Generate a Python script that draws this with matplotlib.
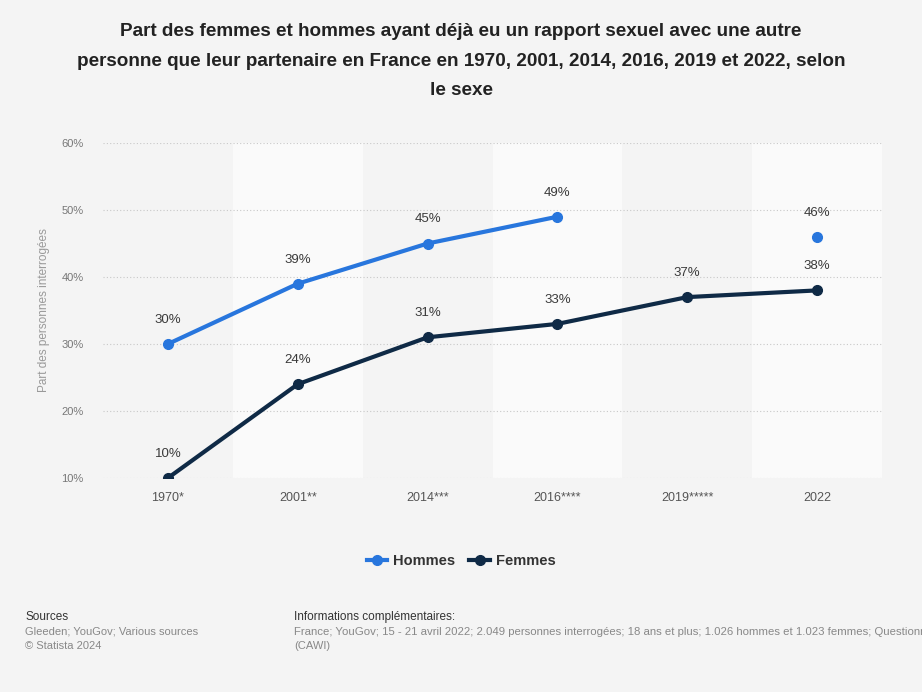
import numpy as np
import matplotlib.pyplot as plt

plt.rcParams["font.family"] = ["Liberation Sans", "DejaVu Sans"]

# data
years = ["1970*", "2001**", "2014***", "2016****", "2019*****", "2022"]
hommes = [30, 39, 45, 49, np.nan, 46]
femmes = [10, 24, 31, 33, 37, 38]
yticks = [10, 20, 30, 40, 50, 60]

BLUE = "#2876dd"
NAVY = "#0f2a46"
BG = "#f4f4f4"

fig = plt.figure(figsize=(9.22, 6.92), dpi=100, facecolor=BG)
ax = fig.add_axes([103 / 922, 1 - 478 / 692, (882 - 103) / 922, (478 - 143) / 692])
ax.set_facecolor(BG)

x = np.arange(len(years))
for i in x:
    if i % 2 == 1:
        ax.axvspan(i - 0.5, i + 0.5, color="#fafafa", zorder=0, lw=0)

for t in yticks:
    ax.axhline(t, color="#c8c8c8", lw=0.8, ls=(0, (1, 2)), zorder=1)

ax.plot(x, hommes, color=BLUE, lw=3, marker="o", ms=7, zorder=3, label="Hommes")
ax.plot(x, femmes, color=NAVY, lw=3, marker="o", ms=7, zorder=3, label="Femmes")

for xi, v in zip(x, hommes):
    if not np.isnan(v):
        ax.annotate(f"{v:.0f}%", (xi, v), xytext=(0, 13), textcoords="offset points",
                    ha="center", va="bottom", fontsize=9.5, color="#3a3a3a")
for xi, v in zip(x, femmes):
    ax.annotate(f"{v}%", (xi, v), xytext=(0, 13), textcoords="offset points",
                ha="center", va="bottom", fontsize=9.5, color="#3a3a3a")

ax.set_xlim(-0.5, len(years) - 0.5)
ax.set_ylim(10, 60)
ax.set_xticks(x)
ax.set_xticklabels(years, fontsize=9, color="#555555")
ax.set_yticks(yticks)
ax.set_yticklabels([f"{t}%" for t in yticks], fontsize=8, color="#777777")
ax.tick_params(length=0)
ax.tick_params(axis="x", pad=10)
ax.tick_params(axis="y", pad=14)
for s in ax.spines.values():
    s.set_visible(False)
ax.set_ylabel("Part des personnes interrogées", fontsize=8.5, color="#999999")
ax.yaxis.set_label_coords(-53 / 779, 0.5)

fig.text(0.5, 1 - 61 / 692,
         "Part des femmes et hommes ayant déjà eu un rapport sexuel avec une autre\n"
         "personne que leur partenaire en France en 1970, 2001, 2014, 2016, 2019 et 2022, selon\n"
         "le sexe",
         ha="center", va="center", fontsize=13.6, fontweight="bold", color="#222222",
         linespacing=1.95)

leg = fig.legend(loc="center", bbox_to_anchor=(0.5, 1 - 561 / 692), ncol=2, frameon=False,
                 handlelength=1.4, handletextpad=0.4, columnspacing=1.0,
                 prop={"weight": "bold", "size": 10.5})
for t in leg.get_texts():
    t.set_color("#333333")

fig.text(25 / 922, 1 - 617 / 692, "Sources", fontsize=8.5, color="#333333", va="center")
fig.text(25 / 922, 1 - 632 / 692, "Gleeden; YouGov; Various sources", fontsize=8,
         color="#888888", va="center")
fig.text(25 / 922, 1 - 646 / 692, "© Statista 2024", fontsize=8, color="#888888", va="center")
fig.text(294 / 922, 1 - 617 / 692, "Informations complémentaires:", fontsize=8.5,
         color="#333333", va="center")
fig.text(294 / 922, 1 - 632 / 692,
         "France; YouGov; 15 - 21 avril 2022; 2.049 personnes interrogées; 18 ans et plus; "
         "1.026 hommes et 1.023 femmes; Questionnaire en ligne",
         fontsize=8.2, color="#888888", va="center")
fig.text(294 / 922, 1 - 646 / 692, "(CAWI)", fontsize=8, color="#888888", va="center")

fig.savefig("out.png", dpi=100, facecolor=BG)
